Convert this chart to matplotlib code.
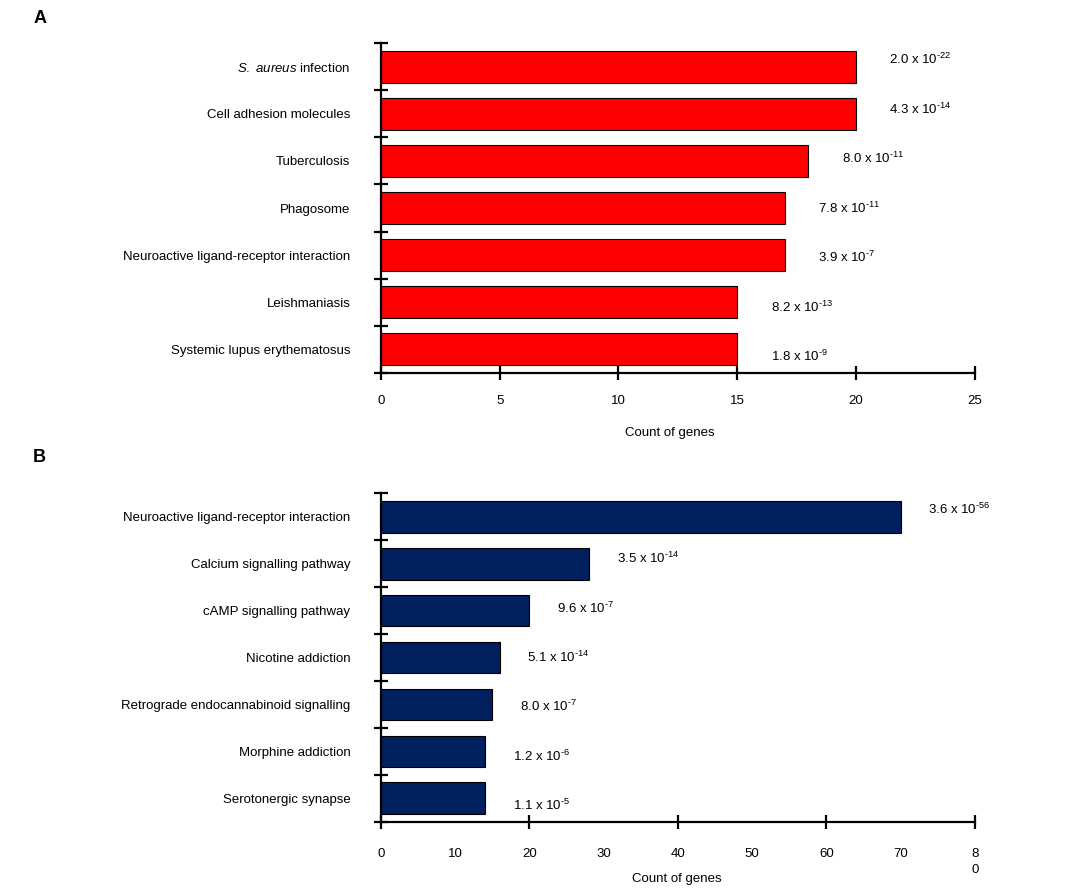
import matplotlib.pyplot as plt

plt.rcParams["font.family"] = ["Liberation Sans", "DejaVu Sans"]
plt.rcParams["mathtext.fontset"] = "custom"
plt.rcParams["mathtext.rm"] = "Liberation Sans"
plt.rcParams["mathtext.it"] = "Liberation Sans:italic"

# Panel A: pathways (red)
a_terms = [
    r"$\it{S.}$ $\it{aureus}$ infection",
    "Cell adhesion molecules",
    "Tuberculosis",
    "Phagosome",
    "Neuroactive ligand-receptor interaction",
    "Leishmaniasis",
    "Systemic lupus erythematosus",
]
a_counts = [20, 20, 18, 17, 17, 15, 15]
a_pvals = ["2.0 x 10$^{\\text{-22}}$", "4.3 x 10$^{\\text{-14}}$",
           "8.0 x 10$^{\\text{-11}}$", "7.8 x 10$^{\\text{-11}}$",
           "3.9 x 10$^{\\text{-7}}$", "8.2 x 10$^{\\text{-13}}$",
           "1.8 x 10$^{\\text{-9}}$"]
a_xticks = [0, 5, 10, 15, 20, 25]
a_xticklabels = ["0", "5", "10", "15", "20", "25"]

# Panel B: pathways (navy)
b_terms = [
    "Neuroactive ligand-receptor interaction",
    "Calcium signalling pathway",
    "cAMP signalling pathway",
    "Nicotine addiction",
    "Retrograde endocannabinoid signalling",
    "Morphine addiction",
    "Serotonergic synapse",
]
b_counts = [70, 28, 20, 16, 15, 14, 14]
b_pvals = ["3.6 x 10$^{\\text{-56}}$", "3.5 x 10$^{\\text{-14}}$",
           "9.6 x 10$^{\\text{-7}}$", "5.1 x 10$^{\\text{-14}}$",
           "8.0 x 10$^{\\text{-7}}$", "1.2 x 10$^{\\text{-6}}$",
           "1.1 x 10$^{\\text{-5}}$"]
b_xticks = [0, 20, 40, 60, 80]
b_xticklabels = ["0", "20", "40", "60", "8\n0"]
b_xminor = [10, 30, 50, 70]
b_xminorlabels = ["10", "30", "50", "70"]

fig = plt.figure(figsize=(10.7, 8.89), dpi=100)
axA = fig.add_axes([0.356, 0.5804, 0.555, 0.3712])
axB = fig.add_axes([0.356, 0.0754, 0.555, 0.3700])

FS = 9.5


def draw_panel(ax, terms, counts, pvals, color, xmax, xoff):
    n = len(terms)
    ypos = list(range(n))
    ax.barh(ypos, counts, height=0.68, color=color, edgecolor="black",
            linewidth=0.8, zorder=2)
    for i, (c, p) in enumerate(zip(counts, pvals)):
        ax.annotate(p, (c, i), xytext=(xoff, -(i - 3) * 1.7),
                    textcoords="offset points", ha="left", va="center",
                    fontsize=FS)
    ax.set_ylim(n - 0.5, -0.5)
    ax.set_xlim(0, xmax)
    # boundary ticks on y, category labels as untick minor labels
    ax.set_yticks([k - 0.5 for k in range(n + 1)])
    ax.set_yticklabels([])
    ax.set_yticks(ypos, minor=True)
    ax.set_yticklabels(terms, minor=True, fontsize=FS)
    ax.tick_params(axis="y", which="major", direction="inout", length=10,
                   width=1.6)
    ax.tick_params(axis="y", which="minor", length=0, pad=22)
    for s in ("top", "right"):
        ax.spines[s].set_visible(False)
    for s in ("left", "bottom"):
        ax.spines[s].set_linewidth(1.6)


draw_panel(axA, a_terms, a_counts, a_pvals, "#FF0000", 25, 24)
draw_panel(axB, b_terms, b_counts, b_pvals, "#002060", 80, 20)

axA.set_xticks(a_xticks)
axA.set_xticklabels(a_xticklabels, fontsize=FS)
axA.tick_params(axis="x", which="major", direction="inout", length=10,
                width=1.6, pad=10.5)

axB.set_xticks(b_xticks)
axB.set_xticklabels(b_xticklabels, fontsize=FS, va="top")
axB.set_xticks(b_xminor, minor=True)
axB.set_xticklabels(b_xminorlabels, minor=True, fontsize=FS)
axB.tick_params(axis="x", which="major", direction="inout", length=10,
                width=1.6, pad=14)
axB.tick_params(axis="x", which="minor", length=0, pad=19)
for t in axB.get_xticklabels():
    t.set_linespacing(1.45)

axA.set_xlabel("Count of genes", fontsize=FS)
axA.xaxis.set_label_coords(0.487, -0.165)
axB.set_xlabel("Count of genes", fontsize=FS)
axB.xaxis.set_label_coords(0.498, -0.156)

fig.text(0.037, 0.979, "A", fontsize=13, fontweight="bold", ha="center",
         va="center")
fig.text(0.037, 0.485, "B", fontsize=13, fontweight="bold", ha="center",
         va="center")

fig.savefig("out.png", dpi=100)
